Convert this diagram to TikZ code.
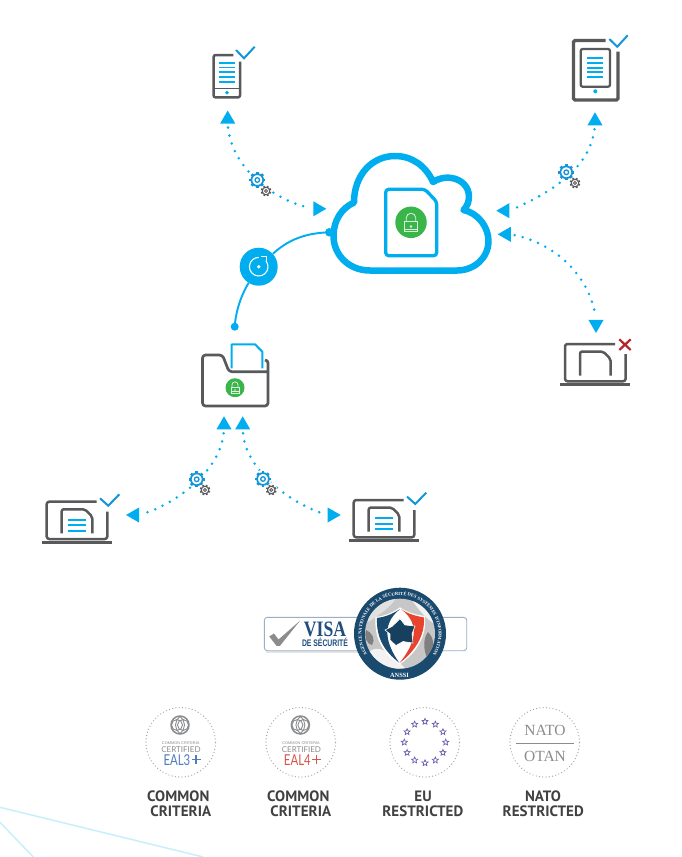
\documentclass[tikz,border=0pt]{standalone}
\usepackage{fontspec}
\setmainfont{Liberation Sans}
\newfontfamily\labfont[LetterSpace=0.5]{PT Sans}
\newfontfamily\eafont{Lato}
\newfontfamily\serfont{Liberation Serif}
\usetikzlibrary{shapes.geometric,decorations.text,calc}
\definecolor{cblue}{HTML}{00AEEF}
\definecolor{gblue}{HTML}{1495D8}
\definecolor{dgray}{HTML}{58595B}
\definecolor{lgreen}{HTML}{39B54A}
\definecolor{txtgray}{HTML}{414042}
\definecolor{seal}{HTML}{1B4A6F}
\definecolor{visa}{HTML}{1F4E7E}
\definecolor{fr}{HTML}{E8432E}
\definecolor{bgline}{HTML}{C7EFFC}
\definecolor{eal3}{HTML}{4F7CC0}
\definecolor{eal4}{HTML}{D6564C}
\definecolor{ccgray}{HTML}{8A8C8E}
\definecolor{crossred}{HTML}{B5252B}
\definecolor{eustarc}{HTML}{6A5FB0}
\tikzset{
  x=1pt,y=-1pt,
  outline/.style={draw=dgray,line width=2.5pt,line join=round,line cap=butt},
  bluestroke/.style={draw=cblue,line width=2pt},
  tri/.style={regular polygon,regular polygon sides=3,fill=cblue,minimum size=17.4pt,inner sep=0pt,outer sep=0pt},
  dotline/.style={draw=cblue,line width=2.8pt,line cap=round,dash pattern=on 0pt off 8.2pt,shorten >=4pt,shorten <=4pt},
  tick/.style={draw=gblue,line width=2pt,line join=miter},
  joint/.style={circle,fill=cblue,minimum size=8pt,inner sep=0pt},
  dotring/.style={circle,draw=black!35,line width=1.3pt,line cap=round,dash pattern=on 0pt off 3.3pt,minimum size=69.5pt,inner sep=0pt},
  caplabel/.style={font=\fontsize{15}{15}\selectfont\labfont\bfseries,text=txtgray,inner sep=0pt},
  lockpic/.pic={
    \draw[draw=white!82!lgreen,line width=0.8pt] (-6.3,-1) rectangle (6.3,9);
    \draw[draw=white!82!lgreen,line width=0.8pt] (-4.8,-1) -- (-4.8,-4.5) arc[start angle=180,end angle=360,radius=4.8] -- (4.8,-1);
    \fill[white!82!lgreen] (0,4) circle[radius=1.4];
    \draw[draw=white!82!lgreen,line width=0.5pt] (-6.3,6.6) -- (6.3,6.6);
  },
  gearpic/.pic={
    \fill[white] (0,0) circle[radius=9.2];
    \foreach \a in {0,45,...,315}{\draw[gblue,line width=2.6pt] (\a:5.6) -- (\a:8.1);}
    \draw[gblue,line width=1.7pt] (0,0) circle[radius=5.9];
    \draw[gblue,line width=1.3pt] (0,0) circle[radius=2.3];
  },
  sgearpic/.pic={
    \fill[white] (0,0) circle[radius=6];
    \foreach \a in {22,67,...,337}{\draw[dgray,line width=1.6pt] (\a:3.6) -- (\a:5.3);}
    \draw[dgray,line width=1.1pt] (0,0) circle[radius=3.8];
    \draw[dgray,line width=0.9pt] (0,0) circle[radius=1.5];
  },
  laptoppic/.pic={
    \draw[outline,rounded corners=2.5pt] (96.7,501.7) -- (46.7,501.7) -- (46.7,539) -- (107.3,539) -- (107.3,511.7);
    \draw[draw=dgray,line width=2.8pt] (41.7,542.4) -- (111.7,542.4);
    \draw[outline,rounded corners=2pt] (61.7,533.3) -- (61.7,509.3) -- (85,509.3) -- (92.3,516.7) -- (92.3,533.3);
  },
  doclines/.pic={
    \foreach \y in {520,525.4,531}{\draw[cblue,line width=1.9pt] (67.7,\y) -- (86,\y);}
  },
}
\begin{document}
\begin{tikzpicture}
\useasboundingbox (0,0) rectangle (682,857);
\fill[white] (0,0) rectangle (682,857);

% background lines
\draw[bgline,line width=1.5pt] (0,807.3) -- (203.3,857);
\draw[bgline,line width=1.5pt] (0,822.3) -- (33.3,857);

% anchors of the dotted connectors
\node[tri] (a1) at (227.7,119.2) {};
\node[tri,rotate=-90] (a2) at (317.6,208.8) {};
\node[tri] (a3) at (595,121) {};
\node[tri,rotate=90] (a4) at (505,210.7) {};
\node[tri,rotate=90] (a5) at (506.4,234.3) {};
\node[tri,rotate=180] (a6) at (596,324.3) {};
\node[tri] (a7) at (224,425) {};
\node[tri] (a8) at (242.7,425) {};
\node[tri,rotate=90] (a9) at (134.7,515) {};
\node[tri,rotate=-90] (a10) at (332,515) {};

\draw[dotline] (a1.side 2) .. controls (232,165) and (268,198) .. (a2.side 2);
\draw[dotline] (a3.side 2) .. controls (590,165) and (557,190) .. (a4.side 2);
\draw[dotline] (a5.side 2) .. controls (560,245) and (590,280) .. (a6.side 2);
\draw[dotline] (a7.side 2) .. controls (220,470) and (178,503) .. (a9.side 2);
\draw[dotline] (a8.side 2) .. controls (246,470) and (290,503) .. (a10.side 2);

% gears
\pic at (257.3,180) {gearpic};
\pic at (266,191) {sgearpic};
\pic at (566.3,172.3) {gearpic};
\pic at (575,183) {sgearpic};
\pic at (196.7,479.3) {gearpic};
\pic at (205,490) {sgearpic};
\pic at (263,479) {gearpic};
\pic at (271.3,490) {sgearpic};

% cloud
\draw[cblue,line width=6.5pt,line join=round]
  (370,270.5) .. controls (348,270.5) and (333.5,254) .. (333.5,236)
  .. controls (333.5,220) and (342,208) .. (354,202.5)
  .. controls (354,175) and (372,156) .. (395,156)
  .. controls (412,156) and (426,166) .. (433,182)
  .. controls (450,171) and (474,182) .. (468,203)
  .. controls (466,207) and (465,209) .. (463.5,210)
  .. controls (478,213) and (488.5,227) .. (488.5,241)
  .. controls (488.5,258) and (474,270.5) .. (457,270.5) -- cycle;
\draw[cblue,line width=3.3pt,rounded corners=3pt,line join=round]
  (385.7,189.3) -- (425,189.3) -- (436.7,201.7) -- (436.7,255.7) -- (385.7,255.7) -- cycle;
\node[circle,fill=lgreen,minimum size=31.5pt,inner sep=0pt] (cloudlock) at (411,222.3) {};
\pic at (411,222.5) {lockpic};

% main connector
\node[joint,minimum size=8.5pt] (cdot) at (329.3,232.3) {};
\node[joint] (fdot) at (234.7,326.7) {};
\node[circle,fill=cblue,minimum size=38pt,inner sep=0pt] (sync) at (258.7,266.7) {};
\draw[cblue,line width=1.9pt] (cdot.center) .. controls (305,233) and (288,240) .. (sync);
\draw[cblue,line width=1.9pt] (sync) .. controls (243,292) and (236,308) .. (fdot.center);
\draw[white,line width=1.1pt] (sync.center) ++(-40:9.3) arc[start angle=-40,end angle=270,radius=9.3];
\draw[white,line width=1.1pt] (261,256.5) -- (266.5,256.5) -- (266.5,261);
\fill[white] (sync.center) circle[radius=1.9];

% phone
\draw[outline,rounded corners=2pt] (233.3,55) -- (213.6,55) -- (213.6,97.4) -- (240,97.4) -- (240,61.7);
\draw[draw=dgray,line width=1.5pt] (213.6,88.3) -- (240,88.3);
\foreach \y in {62.7,67.4,72.3,77,82}{\draw[cblue,line width=1.7pt] (219.3,\y) -- (235,\y);}
\fill[cblue] (227,92.6) circle[radius=1.9];
\draw[tick] (236,50) -- (244,58.3) -- (254.7,46.7);

% tablet
\draw[draw=dgray,line width=3.4pt,rounded corners=1.5pt] (605.7,40.5) -- (573.5,40.5) -- (573.5,100) -- (618,100) -- (618,51.7);
\draw[outline,line width=2.3pt,rounded corners=2pt] (580.7,49) rectangle (610,86.7);
\foreach \y in {57.7,62.7,67.7,72.3,77.3}{\draw[cblue,line width=1.7pt] (587.3,\y) -- (603.3,\y);}
\fill[cblue] (595.3,91.3) circle[radius=2];
\draw[tick] (609.3,39) -- (617.3,46.7) -- (627.7,35.3);

% folder
\draw[outline,line width=2.7pt,rounded corners=3pt] (265,360) -- (268,360) -- (268,406) -- (202.5,406) -- (202.5,355) -- (222.5,355) -- (229,371.7) -- (268,371.7);
\draw[bluestroke,line join=round] (231.7,368.3) -- (231.7,344.3) -- (255,344.3) -- (262.3,351.7) -- (262.3,368.3);
\node[circle,fill=lgreen,minimum size=19pt,inner sep=0pt] (folderlock) at (235,387.7) {};
\pic[scale=0.62] at (235,387.6) {lockpic};

% laptops
\pic at (0,0) {laptoppic};
\pic at (0,0) {doclines};
\draw[tick] (100,498.3) -- (108.3,505.7) -- (119.3,494.3);
\begin{scope}[shift={(307,-1.7)}]
\pic at (0,0) {laptoppic};
\pic at (0,0) {doclines};
\draw[tick] (100,498.3) -- (108.3,505.7) -- (119.3,494.3);
\end{scope}
\begin{scope}[shift={(518.3,-157.7)}]
\pic at (0,0) {laptoppic};
\end{scope}
\draw[draw=crossred,line width=2.2pt] (619.3,339.3) -- (630.7,350) (630.7,339.3) -- (619.3,350);

% visa badge
\draw[draw=black!10,line width=2pt] (266,652) -- (360,652);
\draw[draw=visa!45!white,line width=0.9pt,rounded corners=3pt,fill=white] (264.3,617.3) rectangle (466.7,650.7);
\fill[black!45] (269.3,636.5) -- (274,633.5) -- (278.5,639.5) -- (300,620.7) -- (280,645.8) -- (276.5,645.8) -- cycle;
\node[font=\fontsize{22}{22}\selectfont\serfont\bfseries,text=visa,inner sep=0pt,xscale=0.8] (visaword) at (325,629.5) {VISA};
\node[font=\fontsize{9.5}{9.5}\selectfont\bfseries,text=visa,inner sep=0pt,xscale=0.72] (visasub) at (325,642) {DE SÉCURITÉ};

% seal
\fill[seal] (400,633.7) circle[radius=46];
\fill[black!22] (400,633.7) circle[radius=35];
\begin{scope}
\clip (400,633.7) circle[radius=35];
\fill[white!95!black] (366,655) .. controls (378,640) and (392,655) .. (405,668) -- (370,672) -- cycle;
\fill[white!95!black] (412,600) .. controls (425,605) and (432,612) .. (436,625) .. controls (428,620) and (420,612) .. (412,600) -- cycle;
\fill[white!88!black] (368,615) .. controls (375,605) and (385,600) .. (396,598) .. controls (392,606) and (378,616) .. (368,622) -- cycle;
\fill[black!50] (428,632) .. controls (434,638) and (436,648) .. (428,660) .. controls (424,652) and (422,640) .. (428,632) -- cycle;
\fill[black!50] (366,630) .. controls (372,632) and (376,640) .. (372,645) .. controls (367,644) and (364,638) .. (366,630) -- cycle;
\end{scope}
\fill[white] (400,607.3) .. controls (391,614) and (383,616) .. (375.5,617) .. controls (374,640) and (384,654) .. (399.5,664.5) .. controls (415,654) and (427,638) .. (425,616) .. controls (417,615) and (408,613) .. (400,607.3) -- cycle;
\fill[seal] (400,609) .. controls (391,615) and (384,617) .. (377,618) .. controls (376,638) and (385,652) .. (399,662.5) .. controls (387,645) and (380,625) .. (400,609) -- cycle;
\fill[fr] (401,609) .. controls (408,614) and (416,616) .. (424,617.5) .. controls (425,637) and (414,652) .. (399.5,663) .. controls (414,645) and (422,625) .. (401,609) -- cycle;
\fill[seal!85!black,draw=white,line width=0.6pt] (400,618.7) -- (405,625) -- (415,626) -- (412,634) -- (413,643) -- (403,641.5) -- (396,645.5) -- (390,640) -- (390,634) -- (385,630) -- (392,626.5) -- cycle;
\path[decorate,decoration={text along path,text align=center,
   text={|\fontsize{4.6}{4.6}\selectfont\serfont\bfseries\color{white}|AGENCE NATIONALE DE LA SÉCURITÉ DES SYSTÈMES D'INFORMATION}}]
   (400,633.7) ++(140:38.5) arc[start angle=140,end angle=400,radius=38.5];
\node[font=\fontsize{6.4}{6.4}\selectfont\serfont\bfseries,text=white,inner sep=0pt] (anssi) at (399.5,675.5) {ANSSI};

% certification badges
\node[dotring] (c1) at (180.7,742.3) {};
\node[dotring] (c2) at (300.7,742.3) {};
\node[dotring] (c3) at (424.7,742.3) {};
\node[dotring] (c4) at (544.7,742.3) {};

\foreach \cx/\num/\col in {180/3/eal3,300.4/4/eal4}{
  \begin{scope}[shift={(\cx,0)}]
  \draw[ccgray,line width=1.5pt] (0,725) circle[radius=9];
  \draw[ccgray,line width=0.9pt] (-3,725) circle[radius=5.5] (3,725) circle[radius=5.5];
  \draw[ccgray,line width=0.9pt] (0,716.5) .. controls (-6,722) and (-6,728) .. (0,733.5) .. controls (6,728) and (6,722) .. (0,716.5);
  \node[font=\fontsize{3.9}{4}\selectfont,text=ccgray,inner sep=0pt] (cctiny\num) at (0.7,743) {COMMON CRITERIA};
  \node[font=\fontsize{8}{8}\selectfont\eafont,text=ccgray,inner sep=0pt] (cccert\num) at (1,749.4) {CERTIFIED};
  \node[font=\fontsize{15}{15}\selectfont\eafont,text=\col,inner sep=0pt,anchor=east,xscale=0.76] (cceal\num) at (10.5,760) {EAL\num};
  \draw[\col,line width=1.6pt] (12,759.4) -- (20.5,759.4) (16.2,755) -- (16.2,764);
  \end{scope}
}
\foreach \i in {0,...,11}{
  \node[star,star points=5,star point ratio=2.2,draw=eustarc,line width=0.7pt,minimum size=6.4pt,inner sep=0pt] (eustar\i) at ($(425,742.3)+(\i*30:20.7)$) {};
}
\node[font=\fontsize{15.5}{16}\selectfont\serfont,text=ccgray,inner sep=0pt] (natoword) at (545,730.8) {NATO};
\node[font=\fontsize{15.5}{16}\selectfont\serfont,text=ccgray,inner sep=0pt] (otanword) at (545,756) {OTAN};
\draw[ccgray,line width=0.9pt] (516,743.3) -- (574,743.3);

\node[caplabel] (l1a) at (178.3,796.3) {COMMON};
\node[caplabel] (l1b) at (180.8,811.3) {CRITERIA};
\node[caplabel] (l2a) at (298.3,796.3) {COMMON};
\node[caplabel] (l2b) at (300.8,811.3) {CRITERIA};
\node[caplabel] (l3a) at (423,796.3) {EU};
\node[caplabel] (l3b) at (422.8,811.3) {RESTRICTED};
\node[caplabel] (l4a) at (543,796.3) {NATO};
\node[caplabel] (l4b) at (543.2,811.3) {RESTRICTED};
\end{tikzpicture}
\end{document}
